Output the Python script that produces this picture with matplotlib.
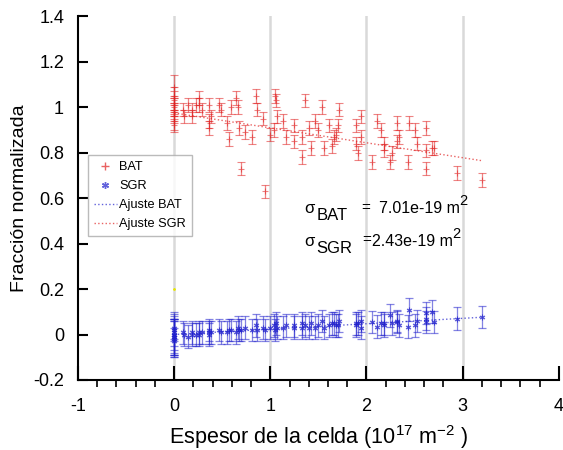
import matplotlib
matplotlib.use('Agg')
from matplotlib import pyplot as plt
from matplotlib.lines import Line2D
from matplotlib.ticker import MultipleLocator

# espesor de la celda (1e17 m^-2), puntos medidos
esp = [0, 0, 0, 0, 0, 0, 0, 0, 0, 0,
       0.09, 0.10, 0.14, 0.19, 0.19, 0.23, 0.26, 0.26, 0.29, 0.36,
       0.36, 0.36, 0.38, 0.47, 0.49, 0.55, 0.57, 0.59, 0.64, 0.66,
       0.67, 0.70, 0.74, 0.81, 0.85, 0.86, 0.92, 0.95, 1.00, 1.04,
       1.05, 1.06, 1.07, 1.13, 1.16, 1.25, 1.25, 1.33, 1.33, 1.36,
       1.40, 1.42, 1.47, 1.50, 1.54, 1.56, 1.61, 1.64, 1.68, 1.71,
       1.70, 1.66, 1.89, 1.94, 1.94, 1.89, 1.91, 2.06, 2.11, 2.15,
       2.18, 2.18, 2.25, 2.27, 2.32, 2.34, 2.32, 2.44, 2.50, 2.43,
       2.53, 2.62, 2.62, 2.62, 2.68, 2.70, 2.94, 3.20]

bat = [1.09, 1.05, 1.03, 1.01, 1.00, 0.99, 0.98, 0.96, 0.94, 0.92,
       0.99, 0.96, 1.01, 0.99, 0.96, 1.01, 1.04, 1.01, 0.99, 1.01,
       0.91, 0.94, 0.96, 1.01, 0.99, 0.93, 0.86, 1.00, 1.04, 1.00,
       0.91, 0.73, 0.89, 0.87, 1.05, 0.99, 0.95, 0.63, 0.88, 0.90,
       1.05, 1.03, 0.96, 0.94, 0.87, 0.92, 0.85, 0.87, 0.78, 1.03,
       0.91, 0.82, 0.94, 0.90, 1.00, 0.82, 0.92, 0.83, 0.88, 0.99,
       0.92, 0.87, 0.92, 0.96, 0.87, 0.84, 0.80, 0.76, 0.94, 0.90,
       0.84, 0.81, 0.76, 0.80, 0.93, 0.87, 0.85, 0.93, 0.90, 0.76,
       0.84, 0.91, 0.81, 0.73, 0.82, 0.82, 0.71, 0.68]

sgr = [0.00, -0.01, 0.01, -0.02, 0.02, 0.00, -0.03, 0.03, 0.00, -0.01,
       0.01, 0.00, -0.01, 0.01, 0.00, 0.00, 0.01, 0.00, 0.01, 0.01,
       0.00, 0.02, 0.01, 0.02, 0.01, 0.01, 0.02, 0.02, 0.01, 0.03,
       0.02, 0.02, 0.03, 0.02, 0.04, 0.02, 0.03, 0.02, 0.03, 0.04,
       0.02, 0.05, 0.03, 0.03, 0.04, 0.03, 0.04, 0.03, 0.05, 0.04,
       0.03, 0.05, 0.03, 0.04, 0.06, 0.03, 0.04, 0.05, 0.04, 0.06,
       0.04, 0.05, 0.05, 0.03, 0.06, 0.04, 0.05, 0.055, 0.035, 0.05,
       0.05, 0.04, 0.085, 0.05, 0.055, 0.04, 0.06, 0.11, 0.04, 0.035,
       0.06, 0.095, 0.055, 0.07, 0.10, 0.055, 0.07, 0.077]

err_bat = [0.05, 0.04, 0.04, 0.04, 0.04, 0.03, 0.04, 0.03, 0.04, 0.03] + [0.03] * 78
err_sgr = [0.09, 0.07, 0.06, 0.08, 0.05, 0.10, 0.06, 0.05, 0.07, 0.08] + [0.05] * 78

# rectas de ajuste
fit_x = [0, 3.2]
fit_bat = [0.975, 0.765]
fit_sgr = [0.0, 0.076]

plt.rcParams['font.family'] = ['Liberation Sans', 'DejaVu Sans']
plt.rcParams['mathtext.fontset'] = 'custom'
plt.rcParams['mathtext.rm'] = 'Liberation Sans'
plt.rcParams['mathtext.it'] = 'Liberation Sans:italic'

red = '#e02020'
blue = '#2020cc'

fig = plt.figure(figsize=(5.63, 4.5), dpi=100)
ax = fig.add_axes([0.1385, 0.1556, 0.854, 0.808])

for xv in [0, 1, 2, 3]:
    ax.axvline(xv, color='#d9d9d9', lw=1.8, zorder=0)

ax.errorbar(esp, bat, yerr=err_bat, fmt='+', color=red, ms=4, mew=0.8,
            elinewidth=0.9, capsize=3, capthick=0.9, alpha=0.55)
ax.errorbar(esp, sgr, yerr=err_sgr, fmt='none', ecolor=blue,
            elinewidth=0.9, capsize=3, capthick=0.9, alpha=0.55)
ax.plot(esp, sgr, ls='none', marker=(6, 2, 0), ms=4, mew=0.8, color=blue, alpha=0.7)
ax.plot(fit_x, fit_sgr, ls=':', lw=1, color=blue, alpha=0.7)
ax.plot(fit_x, fit_bat, ls=':', lw=1, color=red, alpha=0.7)
ax.plot([0], [0.2], marker='.', ms=2, color='#e6e600')

ax.set_xlim(-1, 4)
ax.set_ylim(-0.2, 1.4)
ax.xaxis.set_minor_locator(MultipleLocator(0.2))
ax.set_xticks([-1, 0, 1, 2, 3, 4])
ax.set_xticklabels(['-1', '0', '1', '2', '3', '4'])
ax.set_yticks([-0.2, 0, 0.2, 0.4, 0.6, 0.8, 1, 1.2, 1.4])
ax.set_yticklabels(['-0.2', '0', '0.2', '0.4', '0.6', '0.8', '1', '1.2', '1.4'])
ax.spines['top'].set_visible(False)
ax.spines['right'].set_visible(False)
ax.spines['left'].set_linewidth(1.5)
ax.spines['bottom'].set_linewidth(1.5)
ax.tick_params(axis='both', direction='in', labelsize=13, width=1.5)
ax.tick_params(axis='x', which='major', length=10, pad=13)
ax.tick_params(axis='x', which='minor', length=5, width=1.2)
ax.tick_params(axis='y', which='major', length=7, pad=10)

ax.set_xlabel('Espesor de la celda (10$^{17}$ m$^{-2}$ )', fontsize=15.5, labelpad=6)
ax.set_ylabel('Fracción normalizada', fontsize=14, labelpad=4)

# textos de sigma, colocados pieza a pieza (offset en puntos)
def sigma_text(y, sub, val, dx_eq, dx_val, dx_sup):
    kw = dict(xycoords='data', textcoords='offset points', va='baseline')
    ax.annotate('σ', (1.35, y), xytext=(0, 0), fontsize=12, **kw)
    ax.annotate(sub, (1.35, y), xytext=(9, -5), fontsize=12, **kw)
    ax.annotate('=', (1.35, y), xytext=(dx_eq, 1), fontsize=11, **kw)
    ax.annotate(val, (1.35, y), xytext=(dx_val, 0), fontsize=11.5, **kw)
    ax.annotate('2', (1.35, y), xytext=(dx_sup, 6), fontsize=10.5, **kw)

sigma_text(0.535, 'BAT', '7.01e-19 m', 41, 54, 112)
sigma_text(0.39, 'SGR', '2.43e-19 m', 42, 49, 107)

handles = [
    Line2D([], [], ls='none', marker='+', color=red, ms=6, alpha=0.7),
    Line2D([], [], ls='none', marker=(6, 2, 0), color=blue, ms=5, alpha=0.7),
    Line2D([], [], ls=':', color=blue, lw=1, alpha=0.7),
    Line2D([], [], ls=':', color=red, lw=1, alpha=0.7),
]
ax.legend(handles, ['BAT', 'SGR', 'Ajuste BAT', 'Ajuste SGR'], loc='upper left',
          bbox_to_anchor=(0.021, 0.618), fontsize=9.2, frameon=True, fancybox=False,
          edgecolor='#aaaaaa', handlelength=1.8, handletextpad=0.2,
          borderpad=0.45, borderaxespad=0, labelspacing=0.55)

fig.savefig('out.png', dpi=100)
